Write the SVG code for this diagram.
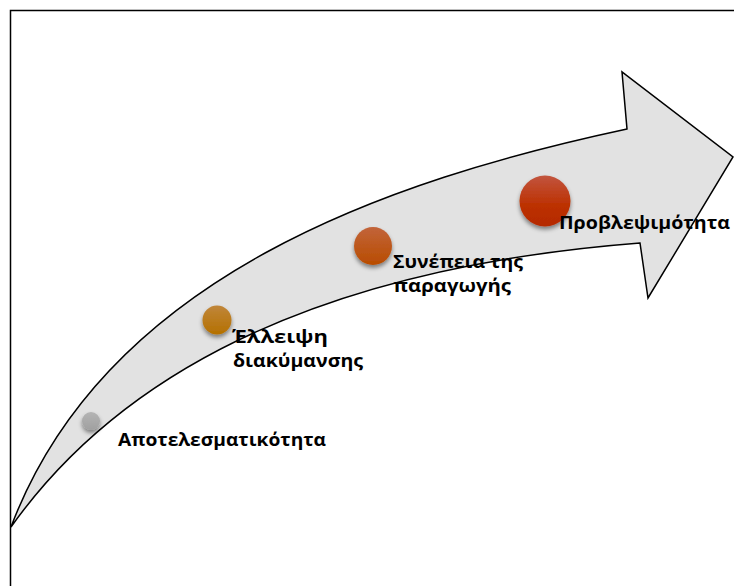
<svg xmlns="http://www.w3.org/2000/svg" width="734" height="586" viewBox="0 0 734 586">
  <style>
    .lbl { font-family: "Open Sans", "Noto Sans", "Liberation Sans", sans-serif; font-weight: 700; font-size: 18.5px; fill: #000; }
    .arrow { fill: #e2e2e2; stroke: #000; stroke-width: 1.5; stroke-linejoin: miter; }
  </style>
  <defs>
    <filter id="sh" x="-50%" y="-50%" width="200%" height="200%">
      <feDropShadow dx="0" dy="3" stdDeviation="2" flood-color="#000" flood-opacity="0.45"/>
    </filter>
    <linearGradient id="gGray" x1="0" y1="0" x2="0" y2="1">
      <stop offset="0" stop-color="#b4b4b4"/>
      <stop offset="1" stop-color="#a0a0a0"/>
    </linearGradient>
    <linearGradient id="gGold" x1="0" y1="0" x2="0" y2="1">
      <stop offset="0" stop-color="#c0863a"/>
      <stop offset="1" stop-color="#b47000"/>
    </linearGradient>
    <linearGradient id="gOrange" x1="0" y1="0" x2="0" y2="1">
      <stop offset="0" stop-color="#c2643a"/>
      <stop offset="1" stop-color="#b84c00"/>
    </linearGradient>
    <linearGradient id="gRed" x1="0" y1="0" x2="0" y2="1">
      <stop offset="0" stop-color="#c2553f"/>
      <stop offset="0.6" stop-color="#bc3000"/>
      <stop offset="1" stop-color="#b42a00"/>
    </linearGradient>
  </defs>

  <rect x="10.5" y="10.5" width="740" height="600" fill="#fff" stroke="#000" stroke-width="1.5"/>

  <g id="connectors">
    <path id="arrow" class="arrow" d="M11,527 C105.6,275.6 389.9,179.8 627,129 L622,72 L733,157 L648,298 L640,243 C409,261 153,327 11,527 Z"/>
  </g>

  <g id="node-apotelesmatikotita">
    <circle cx="91" cy="421" r="9" fill="url(#gGray)" filter="url(#sh)"/>
    <text class="lbl" x="118" y="446" textLength="208" lengthAdjust="spacingAndGlyphs">Αποτελεσματικότητα</text>
  </g>

  <g id="node-elleipsi">
    <circle cx="217" cy="320" r="14.5" fill="url(#gGold)" filter="url(#sh)"/>
    <text class="lbl" x="232" y="343" textLength="96" lengthAdjust="spacingAndGlyphs">Έλλειψη</text>
    <text class="lbl" x="233" y="367" textLength="130" lengthAdjust="spacingAndGlyphs">διακύμανσης</text>
  </g>

  <g id="node-synepeia">
    <circle cx="373" cy="246" r="19" fill="url(#gOrange)" filter="url(#sh)"/>
    <text class="lbl" x="393" y="268" textLength="130" lengthAdjust="spacingAndGlyphs">Συνέπεια της</text>
    <text class="lbl" x="393" y="292" textLength="118" lengthAdjust="spacingAndGlyphs">παραγωγής</text>
  </g>

  <g id="node-provlepsimotita">
    <circle cx="545" cy="201" r="25.5" fill="url(#gRed)" filter="url(#sh)"/>
    <text class="lbl" x="559" y="229" textLength="171" lengthAdjust="spacingAndGlyphs">Προβλεψιμότητα</text>
  </g>
</svg>
